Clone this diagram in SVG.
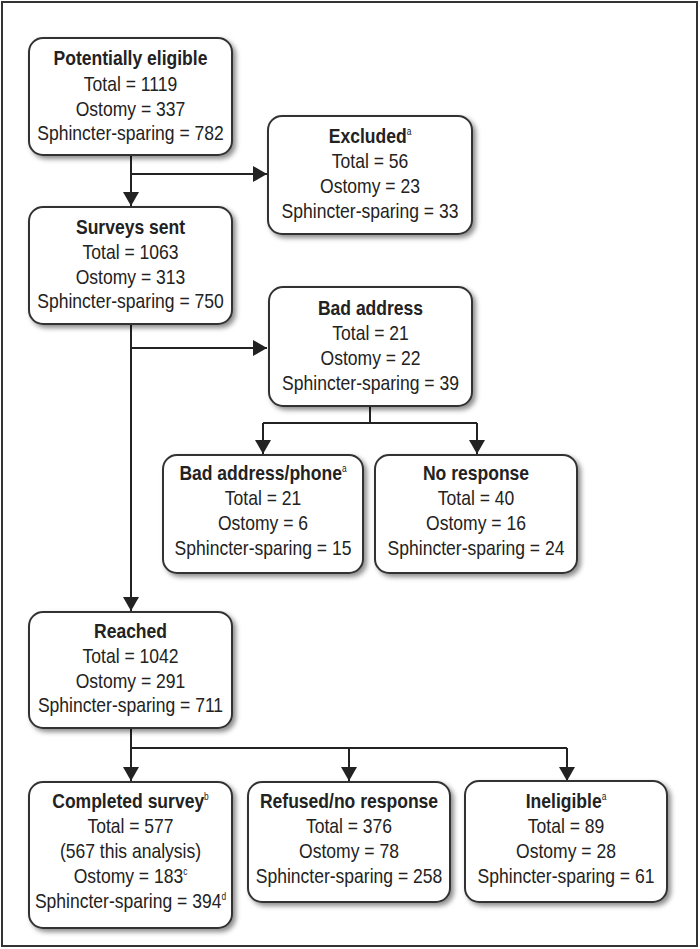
<svg xmlns="http://www.w3.org/2000/svg" width="700" height="949" viewBox="0 0 700 949">
<defs>
<filter id="sh" x="-10%" y="-10%" width="125%" height="130%">
<feDropShadow dx="3" dy="3" stdDeviation="2.5" flood-color="#000" flood-opacity="0.45"/>
</filter>
<marker id="ah" viewBox="0 0 14 16" refX="14" refY="8" markerWidth="14" markerHeight="16" markerUnits="userSpaceOnUse" orient="auto">
<path d="M0,0 L14,8 L0,16 z" fill="#222"/>
</marker>
<style>
.box{fill:#fff;stroke:#333;stroke-width:2;filter:url(#sh)}
text{font-family:"Liberation Sans",Arial,sans-serif;font-size:21px;fill:#222;text-anchor:middle}
.t{font-weight:bold}
.sup{font-size:10px}
.ln{fill:none;stroke:#222;stroke-width:2}
</style>
</defs>
<rect x="0" y="0" width="700" height="949" fill="#fff"/>
<rect x="2" y="2" width="695" height="944" fill="#fff" stroke="#333" stroke-width="2"/>
<g id="connectors">
<path class="ln" d="M131,155 V206" marker-end="url(#ah)"/>
<path class="ln" d="M131,174 H267" marker-end="url(#ah)"/>
<path class="ln" d="M131,324 V611" marker-end="url(#ah)"/>
<path class="ln" d="M131,348 H267" marker-end="url(#ah)"/>
<path class="ln" d="M370,406 V423 M263,423 H477"/>
<path class="ln" d="M263,423 V454" marker-end="url(#ah)"/>
<path class="ln" d="M477,423 V454" marker-end="url(#ah)"/>
<path class="ln" d="M131,728 V781" marker-end="url(#ah)"/>
<path class="ln" d="M131,748 H567"/>
<path class="ln" d="M349,748 V781" marker-end="url(#ah)"/>
<path class="ln" d="M567,748 V781" marker-end="url(#ah)"/>
</g>
<g id="potentially-eligible">
<rect class="box" x="29" y="38" width="203" height="117" rx="14"/>
<g transform="translate(130.5 0) scale(0.835 1)">
<text x="0" y="65" class="t">Potentially eligible</text>
<text x="0" y="91">Total = 1119</text>
<text x="0" y="116">Ostomy = 337</text>
<text x="0" y="140">Sphincter-sparing = 782</text>
</g>
</g>
<g id="excluded">
<rect class="box" x="268" y="116" width="204" height="118" rx="14"/>
<g transform="translate(370 0) scale(0.835 1)">
<text x="0" y="143"><tspan class="t">Excluded</tspan><tspan class="sup" dy="-8">a</tspan></text>
<text x="0" y="168">Total = 56</text>
<text x="0" y="193">Ostomy = 23</text>
<text x="0" y="218">Sphincter-sparing = 33</text>
</g>
</g>
<g id="surveys-sent">
<rect class="box" x="29" y="207" width="203" height="117" rx="14"/>
<g transform="translate(130.5 0) scale(0.835 1)">
<text x="0" y="234" class="t">Surveys sent</text>
<text x="0" y="259">Total = 1063</text>
<text x="0" y="284">Ostomy = 313</text>
<text x="0" y="308">Sphincter-sparing = 750</text>
</g>
</g>
<g id="bad-address">
<rect class="box" x="269" y="287" width="203" height="119" rx="14"/>
<g transform="translate(370.5 0) scale(0.835 1)">
<text x="0" y="315" class="t">Bad address</text>
<text x="0" y="340">Total = 21</text>
<text x="0" y="365">Ostomy = 22</text>
<text x="0" y="390">Sphincter-sparing = 39</text>
</g>
</g>
<g id="bad-address-phone">
<rect class="box" x="163" y="455" width="200" height="118" rx="14"/>
<g transform="translate(263 0) scale(0.835 1)">
<text x="0" y="480"><tspan class="t">Bad address/phone</tspan><tspan class="sup" dy="-8">a</tspan></text>
<text x="0" y="505">Total = 21</text>
<text x="0" y="530">Ostomy = 6</text>
<text x="0" y="555">Sphincter-sparing = 15</text>
</g>
</g>
<g id="no-response">
<rect class="box" x="375" y="455" width="202" height="118" rx="14"/>
<g transform="translate(476 0) scale(0.835 1)">
<text x="0" y="480" class="t">No response</text>
<text x="0" y="505">Total = 40</text>
<text x="0" y="530">Ostomy = 16</text>
<text x="0" y="555">Sphincter-sparing = 24</text>
</g>
</g>
<g id="reached">
<rect class="box" x="29" y="612" width="203" height="116" rx="14"/>
<g transform="translate(130.5 0) scale(0.835 1)">
<text x="0" y="638" class="t">Reached</text>
<text x="0" y="663">Total = 1042</text>
<text x="0" y="688">Ostomy = 291</text>
<text x="0" y="712">Sphincter-sparing = 711</text>
</g>
</g>
<g id="completed-survey">
<rect class="box" x="29" y="782" width="203" height="146" rx="14"/>
<g transform="translate(130.5 0) scale(0.835 1)">
<text x="0" y="808"><tspan class="t">Completed survey</tspan><tspan class="sup" dy="-8">b</tspan></text>
<text x="0" y="833">Total = 577</text>
<text x="0" y="858">(567 this analysis)</text>
<text x="0" y="883">Ostomy = 183<tspan class="sup" dy="-8">c</tspan></text>
<text x="0" y="908">Sphincter-sparing = 394<tspan class="sup" dy="-8">d</tspan></text>
</g>
</g>
<g id="refused-no-response">
<rect class="box" x="248" y="782" width="202" height="120" rx="14"/>
<g transform="translate(349 0) scale(0.835 1)">
<text x="0" y="808" class="t">Refused/no response</text>
<text x="0" y="833">Total = 376</text>
<text x="0" y="858">Ostomy = 78</text>
<text x="0" y="883">Sphincter-sparing = 258</text>
</g>
</g>
<g id="ineligible">
<rect class="box" x="465" y="781" width="202" height="121" rx="14"/>
<g transform="translate(566 0) scale(0.835 1)">
<text x="0" y="808"><tspan class="t">Ineligible</tspan><tspan class="sup" dy="-8">a</tspan></text>
<text x="0" y="833">Total = 89</text>
<text x="0" y="858">Ostomy = 28</text>
<text x="0" y="883">Sphincter-sparing = 61</text>
</g>
</g>
</svg>
